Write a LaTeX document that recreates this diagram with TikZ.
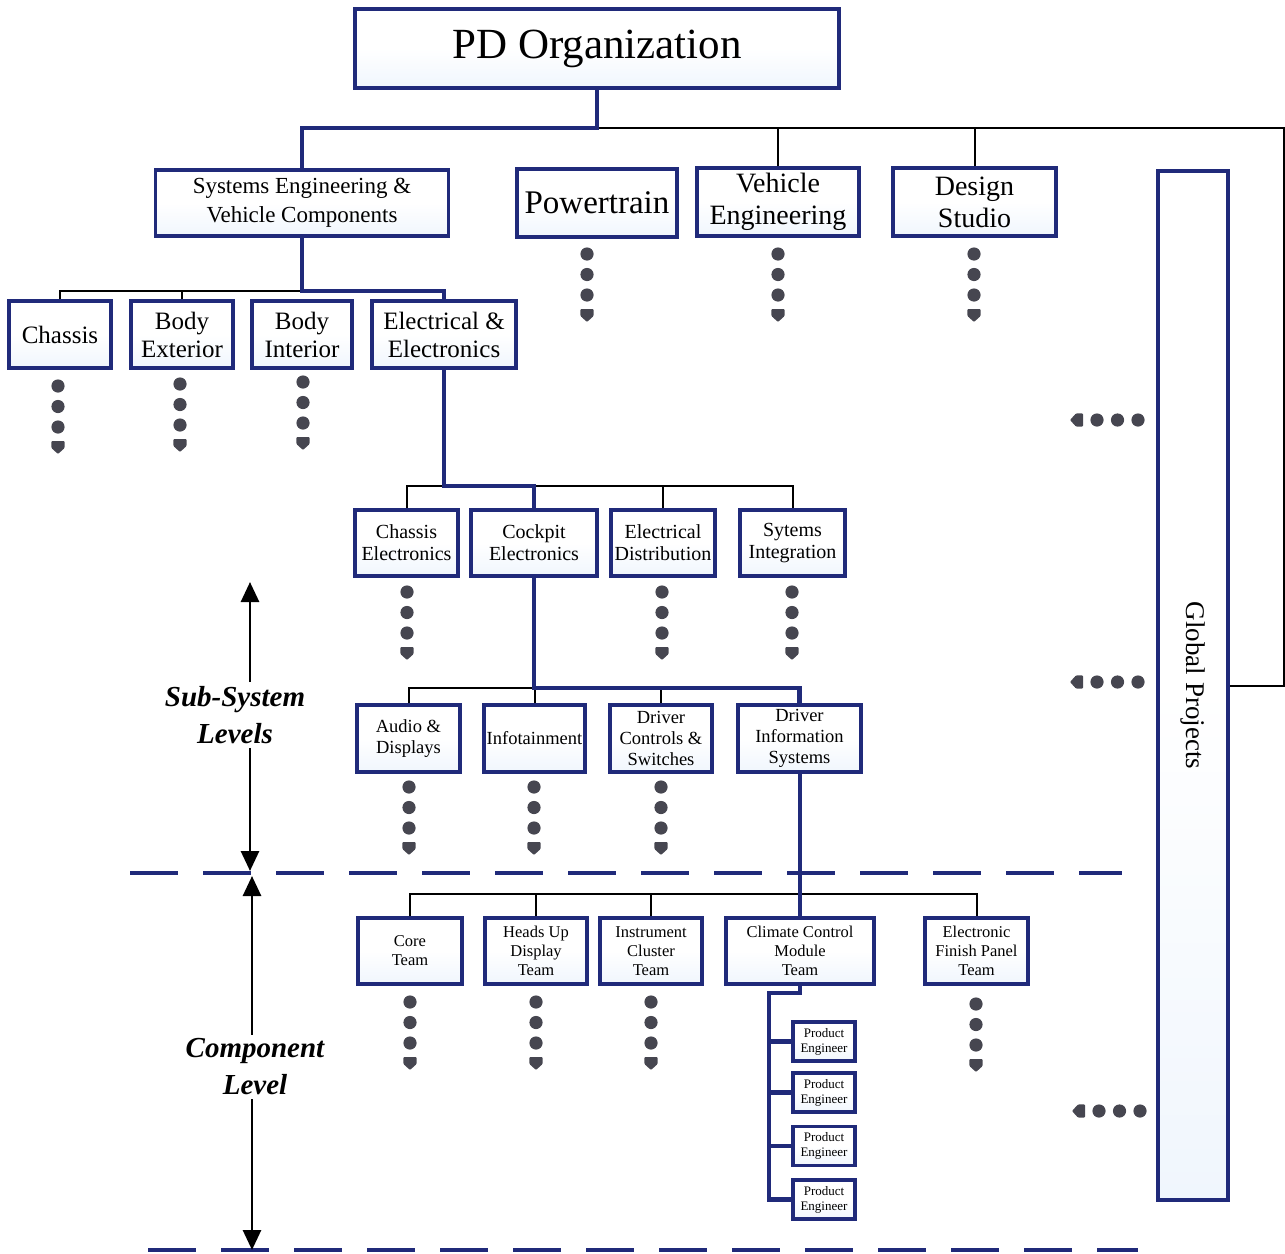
\documentclass[tikz,border=0pt]{standalone}
\usepackage{fontspec}
\setmainfont{Liberation Serif}
\usetikzlibrary{arrows.meta}
\definecolor{navy}{RGB}{32,42,122}
\definecolor{paleblue}{RGB}{240,246,253}
\definecolor{dotgray}{RGB}{70,70,80}
\tikzset{
  box/.style={draw=navy, line width=3.3pt, top color=white, bottom color=paleblue,
              middle color=white, align=center, inner sep=0pt, text=black},
  bwh/.style 2 args={box, minimum width=#1pt, minimum height=#2pt},
  fsz/.style 2 args={font=\fontsize{#1}{#2}\selectfont},
  thinline/.style={draw=black, line width=2pt},
  thickline/.style={draw=navy, line width=4.2pt, line join=miter},
  sepline/.style={draw=navy, line width=3.3pt, dash pattern=on 48pt off 25pt},
  lvlarrow/.style={draw=black, line width=2.8pt, -{Triangle[width=18pt,length=20pt]}},
  lvl/.style={font=\fontsize{29}{37}\selectfont\bfseries\itshape, align=center, inner sep=4pt},
  dotcol/.pic={
    \fill[dotgray] (0,0) circle (6.6pt) (0,20.5) circle (6.6pt) (0,41) circle (6.6pt);
    \fill[dotgray, rounded corners=1pt] (-6.6,55) -- (6.6,55) -- (6.6,62) -- (0,68) -- (-6.6,62) -- cycle;
  }
}
\begin{document}
\begin{tikzpicture}[x=1pt,y=-1pt]
\useasboundingbox (0,0) rectangle (1285,1253);

% top of the organisation
\node[bwh={484}{79}, fsz={43}{48}] (pd) at (597,48.5) {PD Organization};
\node[bwh={293}{66}, fsz={23}{29}] (se) at (302,203) {Systems Engineering \&\\Vehicle Components};
\node[bwh={160}{68}, fsz={33}{36}] (pw) at (597,203) {Powertrain};
\node[bwh={162}{68}, fsz={28}{32}] (ve) at (778,202) {Vehicle\\Engineering};
\node[bwh={163}{68}, fsz={28}{32}] (ds) at (974.5,202) {Design\\Studio};
\node[bwh={70}{1029}] (gp) at (1193,685.5) {};
\node[fsz={27}{30}, rotate=-90] (gpt) at (gp.center) {Global Projects};

% vehicle component groups
\node[bwh={102}{67}, fsz={25}{28}] (ch) at (60,334.5) {Chassis};
\node[bwh={102}{67}, fsz={25}{28}] (bx) at (182,334.5) {Body\\Exterior};
\node[bwh={100}{67}, fsz={25}{28}] (bi) at (302,334.5) {Body\\Interior};
\node[bwh={144}{67}, fsz={25}{28}] (ee) at (444,334.5) {Electrical \&\\Electronics};

% electrical & electronics departments
\node[bwh={103}{66}, fsz={20}{22}] (ce) at (406.5,543) {Chassis\\Electronics};
\node[bwh={126}{66}, fsz={20}{22}] (ck) at (534,543) {Cockpit\\Electronics};
\node[bwh={104}{66}, fsz={20}{22}] (ed) at (663,543) {Electrical\\Distribution};
\node[bwh={105}{66}, fsz={20}{22}] (si) at (792.5,543) {Sytems\\Integration};

% cockpit electronics sub-systems
\node[bwh={103}{67}, fsz={18.5}{21}] (ad) at (408.5,738.5) {Audio \&\\Displays};
\node[bwh={101}{67}, fsz={18.5}{21}] (inf) at (534.5,738.5) {Infotainment};
\node[bwh={102}{67}, fsz={18.5}{21}] (dc) at (661,738.5) {Driver\\Controls \&\\Switches};
\node[bwh={123}{67}, fsz={18.5}{21}] (dis) at (799.5,738.5) {Driver\\Information\\Systems};

% component teams
\node[bwh={104}{66}, fsz={16.5}{19}] (core) at (410,951) {Core\\Team};
\node[bwh={102}{66}, fsz={16.5}{19}] (hud) at (536,951) {Heads Up\\Display\\Team};
\node[bwh={102}{66}, fsz={16.5}{19}] (ic) at (651,951) {Instrument\\Cluster\\Team};
\node[bwh={148}{66}, fsz={16.5}{19}] (ccm) at (800,951) {Climate Control\\Module\\Team};
\node[bwh={103}{66}, fsz={16.5}{19}] (efp) at (976.5,951) {Electronic\\Finish Panel\\Team};

% product engineers
\node[bwh={62}{39}, fsz={13}{15}] (pe1) at (824,1041.5) {Product\\Engineer};
\node[bwh={62}{39}, fsz={13}{15}] (pe2) at (824,1092.5) {Product\\Engineer};
\node[bwh={62}{39}, fsz={13}{15}] (pe3) at (824,1146) {Product\\Engineer};
\node[bwh={62}{39}, fsz={13}{15}] (pe4) at (824,1199.5) {Product\\Engineer};

% bus points
\coordinate (b0) at (597,128);
\coordinate (rc) at (1284,128);
\coordinate (b1) at (302,291);
\coordinate (b2) at (444,486);
\coordinate (b3) at (534,688);
\coordinate (b4) at (799.5,894);
\coordinate (sp) at (769,993);

% thin connectors
\draw[thinline] (b0) -- (rc) |- (gp.east);
\draw[thinline] (ve.north) -- (ve.north |- b0);
\draw[thinline] (ds.north) -- (ds.north |- b0);
\draw[thinline] (ch.north) |- (b1);
\draw[thinline] (bx.north) -- (bx.north |- b1);
\draw[thinline] (ce.north) |- (b2) -| (si.north);
\draw[thinline] (ed.north) -- (ed.north |- b2);
\draw[thinline] (ad.north) |- (b3);
\draw[thinline] (inf.north) -- (inf.north |- b3);
\draw[thinline] (dc.north) -- (dc.north |- b3);
\draw[thinline] (core.north) |- (b4) -| (efp.north);
\draw[thinline] (hud.north) -- (hud.north |- b4);
\draw[thinline] (ic.north) -- (ic.north |- b4);

% level separators
\draw[sepline] (130,873) -- (1122,873);
\draw[sepline] (148,1250) -- (1138,1250);

% highlighted reporting line
\draw[thickline] (pd.south) -- (b0) -| (se.north);
\draw[thickline] (se.south) -- (b1) -| (ee.north);
\draw[thickline] (ee.south) -- (b2) -| (ck.north);
\draw[thickline] (ck.south) -- (b3) -| (dis.north);
\draw[thickline] (dis.south) -- (ccm.north |- dis.south) -- (ccm.north);
\draw[thickline] (ccm.south) |- (sp) -- (sp |- pe4.west) -- (pe4.west);
\draw[thickline] (sp |- pe1.west) -- (pe1.west);
\draw[thickline] (sp |- pe2.west) -- (pe2.west);
\draw[thickline] (sp |- pe3.west) -- (pe3.west);

% continuation marks
\pic at (587,254) {dotcol};
\pic at (778,254) {dotcol};
\pic at (974,254) {dotcol};
\pic at (58,386) {dotcol};
\pic at (180,384) {dotcol};
\pic at (303,382) {dotcol};
\pic at (407,592) {dotcol};
\pic at (662,592) {dotcol};
\pic at (792,592) {dotcol};
\pic at (409,787) {dotcol};
\pic at (534,787) {dotcol};
\pic at (661,787) {dotcol};
\pic at (410,1002) {dotcol};
\pic at (536,1002) {dotcol};
\pic at (651,1002) {dotcol};
\pic at (976,1004) {dotcol};
\pic[rotate=-90] at (1138,420) {dotcol};
\pic[rotate=-90] at (1138,682) {dotcol};
\pic[rotate=-90] at (1140,1111) {dotcol};

% level labels
\node[lvl] (sub) at (235,715) {Sub-System\\Levels};
\node[lvl] (comp) at (255,1067) {Component\\Level};
\coordinate (a1t) at (250,582);
\coordinate (a1b) at (250,871);
\coordinate (a2t) at (252,876);
\coordinate (a2b) at (252,1250);
\draw[lvlarrow] (sub.north -| a1t) -- (a1t);
\draw[lvlarrow] (sub.south -| a1b) -- (a1b);
\draw[lvlarrow] (comp.north -| a2t) -- (a2t);
\draw[lvlarrow] (comp.south -| a2b) -- (a2b);
\end{tikzpicture}
\end{document}
